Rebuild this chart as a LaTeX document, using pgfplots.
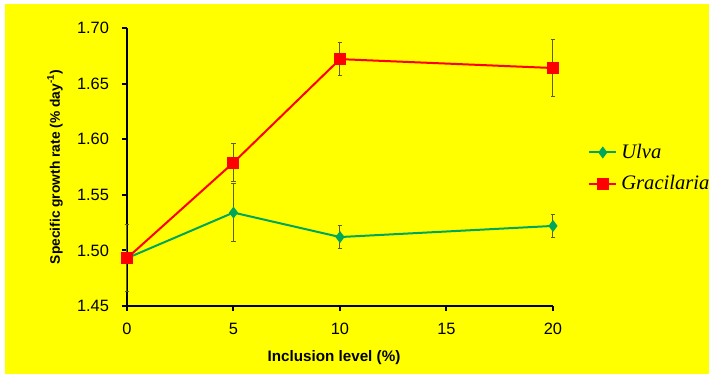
\documentclass[border=0pt]{standalone}
\usepackage{fontspec}
\setmainfont{Liberation Sans}
\newfontfamily\legserif{Liberation Serif}
\usepackage{pgfplots}
\pgfplotsset{compat=1.18}
\definecolor{ulvagreen}{RGB}{0,166,90}
\definecolor{errcol}{RGB}{95,95,20}
\definecolor{bgyellow}{RGB}{255,255,0}
\begin{document}
\begin{tikzpicture}
\path[use as bounding box] (0pt,0pt) rectangle (354.5pt,187pt);
\fill[bgyellow] (2.5pt,0pt) rectangle (354.5pt,185pt);
\begin{axis}[
  at={(63.5pt,34pt)}, anchor=south west,
  scale only axis, width=213pt, height=139pt,
  xmin=0, xmax=20, ymin=1.45, ymax=1.70,
  clip=false,
  axis x line*=bottom, axis y line*=left,
  axis line style={-, line width=1pt},
  xtick={0,5,10,15,20},
  ytick={1.45,1.50,1.55,1.60,1.65,1.70},
  yticklabel style={/pgf/number format/.cd, fixed, fixed zerofill, precision=2, /tikz/.cd, xshift=-3pt},
  xticklabel style={yshift=-2.5pt},
  /pgf/number format/assume math mode=true,
  tick align=outside,
  major tick length=2.5pt,
  tick style={line width=1pt, black},
  ticklabel style={font=\fontsize{8.2}{9}\selectfont},
  xlabel={Inclusion level (\%)},
  ylabel={Specific growth rate (\% day\textsuperscript{-1})},
  every axis x label/.style={at={(axis description cs:0.486,-0.187)}, anchor=center, font=\fontsize{7.6}{9}\selectfont\bfseries},
  every axis y label/.style={at={(axis description cs:-0.169,0.5)}, anchor=center, rotate=90, font=\fontsize{6.9}{9}\selectfont\bfseries},
  legend style={draw=none, fill=none, at={(axis description cs:1.082,0.496)}, anchor=west,
    font=\fontsize{10.3}{12}\selectfont\legserif\itshape, inner sep=0pt, row sep=3pt,
    /tikz/every even column/.append style={column sep=0pt}},
  legend cell align=left,
  legend image code/.code={\draw[mark repeat=2,mark phase=2,#1] plot coordinates {(0pt,0pt)(6.75pt,0pt)(13.5pt,0pt)};},
]
\addplot[color=ulvagreen, line width=1pt, mark=diamond*, mark size=2.2pt,
  mark options={solid, fill=ulvagreen},
  error bars/.cd, y dir=both, y explicit,
  error bar style={color=errcol, line width=0.5pt},
  error mark options={rotate=90, mark size=1.2pt, color=errcol, line width=0.5pt}]
  coordinates {
  (0,1.493) +- (0,0.030)
  (5,1.534) +- (0,0.026)
  (10,1.512) +- (0,0.0105)
  (20,1.522) +- (0,0.0105)
  };
\addlegendentry{Ulva}
\addplot[color=red, line width=1pt, mark=square*, mark size=2.5pt,
  mark options={solid, fill=red},
  error bars/.cd, y dir=both, y explicit,
  error bar style={color=errcol, line width=0.5pt},
  error mark options={rotate=90, mark size=1.2pt, color=errcol, line width=0.5pt}]
  coordinates {
  (0,1.493) +- (0,0.030)
  (5,1.579) +- (0,0.017)
  (10,1.672) +- (0,0.015)
  (20,1.664) +- (0,0.026)
  };
\addlegendentry{Gracilaria}
\end{axis}
\end{tikzpicture}
\end{document}
